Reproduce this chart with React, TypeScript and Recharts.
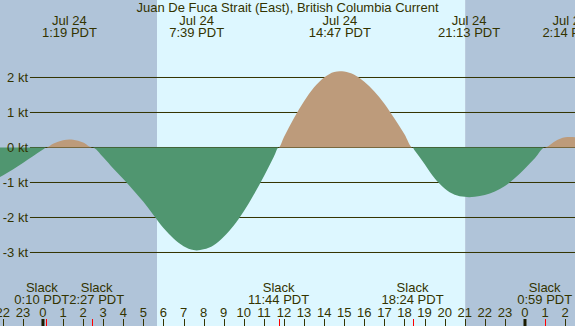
import React from 'react';
import { ComposedChart, Area, XAxis, YAxis, ReferenceArea, ReferenceLine } from 'recharts';

// tidal current, hours relative to Jul 24 00:00 PDT (values above 24 are Jul 25)
const HOURS = [
  -2.14, -2, -1.5, -1, -0.5, 0, 0.167, 0.5, 1, 1.317, 1.5, 2, 2.45, 3, 3.5, 4, 4.5, 5, 5.5, 6,
  6.5, 7, 7.5, 7.65, 8, 8.5, 9, 9.5, 10, 10.5, 11, 11.5, 11.733, 12, 12.5, 13, 13.5, 14, 14.5,
  14.783, 15, 15.5, 16, 16.5, 17, 17.5, 18, 18.4, 18.5, 19, 19.5, 20, 20.5, 21, 21.217, 21.5,
  22, 22.5, 23, 23.5, 24, 24.5, 24.983, 25.5, 26, 26.233, 26.49,
];
const CURRENT_KT = [
  -0.84, -0.8, -0.63, -0.44, -0.25, -0.06, 0, 0.105, 0.21, 0.23, 0.22, 0.14, 0, -0.28, -0.6,
  -0.9, -1.22, -1.55, -1.93, -2.3, -2.6, -2.82, -2.93, -2.94, -2.91, -2.79, -2.55, -2.23, -1.82,
  -1.34, -0.82, -0.26, 0, 0.3, 0.84, 1.32, 1.72, 2.0, 2.16, 2.18, 2.17, 2.08, 1.88, 1.6, 1.25,
  0.83, 0.38, 0, -0.08, -0.47, -0.88, -1.17, -1.35, -1.41, -1.42, -1.41, -1.36, -1.26, -1.1,
  -0.87, -0.6, -0.3, 0, 0.18, 0.29, 0.3, 0.29,
];

const HOUR_TICKS = [-2, -1, 0, 1, 2, 3, 4, 5, 6, 7, 8, 9, 10, 11, 12, 13, 14, 15, 16, 17, 18, 19, 20, 21, 22, 23, 24, 25, 26];
const KT_TICKS = [-3, -2, -1, 0, 1, 2];

const EXTREMA_H = [1.317, 7.65, 14.783, 21.217, 26.233];
const EXTREMA_DATE = ['Jul 24', 'Jul 24', 'Jul 24', 'Jul 24', 'Jul 25'];
const EXTREMA_TIME = ['1:19 PDT', '7:39 PDT', '14:47 PDT', '21:13 PDT', '2:14 PDT'];

const SLACK_H = [0.167, 2.45, 11.733, 18.4, 24.983];
const SLACK_TIME = ['0:10 PDT', '2:27 PDT', '11:44 PDT', '18:24 PDT', '0:59 PDT'];
// labels nudged apart where they would overlap
const SLACK_DX = [-4.5, 4.5, 0, 0, 0];

const SUNRISE_H = 5.68;
const SUNSET_H = 21.02;

const X_DOMAIN: [number, number] = [-2.14, 26.49];
const Y_DOMAIN: [number, number] = [-5.1, 4.214];
const GRID_START_H = -0.65;

const INK = '#333300';
const NIGHT = '#b0c4d9';
const DAY = '#ddf7ff';
const FLOOD = '#bd9b7b';
const EBB = '#509670';
const FONT = '"Liberation Sans", Arial, sans-serif';

const data = HOURS.map((h, i) => ({
  h,
  flood: Math.max(CURRENT_KT[i], 0),
  ebb: Math.min(CURRENT_KT[i], 0),
}));

const HourTick = ({ x, payload }: any) => {
  const label = ((payload.value % 24) + 24) % 24;
  const midnight = label === 0;
  const px = midnight ? x : Math.round(x) + 0.5;
  return (
    <g>
      <line
        x1={px}
        x2={px}
        y1={319}
        y2={326}
        stroke={midnight ? '#1c1c00' : INK}
        strokeWidth={midnight ? 3 : 1}
      />
      <text x={x} y={316.5} textAnchor="middle" fill={INK} fontSize={13} fontFamily={FONT}>
        {label}
      </text>
    </g>
  );
};

const SlackTick = ({ x, payload }: any) => {
  const i = SLACK_H.indexOf(payload.value);
  const lx = x + (SLACK_DX[i] || 0);
  const px = Math.round(x) + 0.5;
  return (
    <g>
      <line x1={px} x2={px} y1={319} y2={326} stroke="#ff0000" strokeWidth={1} />
      <text textAnchor="middle" fill={INK} fontSize={13} fontFamily={FONT}>
        <tspan x={lx} y={292}>Slack</tspan>
        <tspan x={lx} y={304}>{SLACK_TIME[i]}</tspan>
      </text>
    </g>
  );
};

const ExtremaTick = ({ x, payload }: any) => {
  const i = EXTREMA_H.indexOf(payload.value);
  return (
    <text textAnchor="middle" fill={INK} fontSize={13} fontFamily={FONT}>
      <tspan x={x} y={24.5}>{EXTREMA_DATE[i]}</tspan>
      <tspan x={x} y={36.5}>{EXTREMA_TIME[i]}</tspan>
    </text>
  );
};

const KtTick = ({ y, payload }: any) => (
  <text x={28} y={y} dy={4.5} textAnchor="end" fill={INK} fontSize={13} fontFamily={FONT}>
    {payload.value} kt
  </text>
);

export default function App() {
  return (
    <div style={{ position: 'relative', width: 575, height: 326 }}>
      <style>{'body{margin:0}'}</style>
      <ComposedChart width={575} height={326} data={data} margin={{ top: 0, right: 0, bottom: 0, left: 0 }}>
        <XAxis
          dataKey="h"
          type="number"
          domain={X_DOMAIN}
          ticks={HOUR_TICKS}
          interval={0}
          mirror
          allowDataOverflow
          axisLine={false}
          tickLine={false}
          tick={<HourTick />}
        />
        <XAxis
          xAxisId="slack"
          dataKey="h"
          type="number"
          domain={X_DOMAIN}
          ticks={SLACK_H}
          interval={0}
          mirror
          allowDataOverflow
          axisLine={false}
          tickLine={false}
          tick={<SlackTick />}
        />
        <XAxis
          xAxisId="top"
          dataKey="h"
          orientation="top"
          type="number"
          domain={X_DOMAIN}
          ticks={EXTREMA_H}
          interval={0}
          mirror
          allowDataOverflow
          axisLine={false}
          tickLine={false}
          tick={<ExtremaTick />}
        />
        <YAxis
          type="number"
          domain={Y_DOMAIN}
          ticks={KT_TICKS}
          interval={0}
          mirror
          allowDataOverflow
          axisLine={false}
          tickLine={false}
          tick={<KtTick />}
        />
        <ReferenceArea x1={X_DOMAIN[0]} x2={SUNRISE_H} y1={Y_DOMAIN[0]} y2={Y_DOMAIN[1]} fill={NIGHT} fillOpacity={1} stroke="none" zIndex={-300} />
        <ReferenceArea x1={SUNRISE_H} x2={SUNSET_H} y1={Y_DOMAIN[0]} y2={Y_DOMAIN[1]} fill={DAY} fillOpacity={1} stroke="none" zIndex={-300} />
        <ReferenceArea x1={SUNSET_H} x2={X_DOMAIN[1]} y1={Y_DOMAIN[0]} y2={Y_DOMAIN[1]} fill={NIGHT} fillOpacity={1} stroke="none" zIndex={-300} />
        {KT_TICKS.map((v) => (
          <ReferenceLine
            key={v}
            segment={[{ x: GRID_START_H, y: v }, { x: X_DOMAIN[1], y: v }]}
            stroke={INK}
            strokeWidth={1}
            zIndex={-200}
          />
        ))}
        <Area
          type="monotone"
          dataKey="flood"
          baseValue={0}
          stroke="none"
          fill={FLOOD}
          fillOpacity={1}
          dot={false}
          activeDot={false}
          isAnimationActive={false}
        />
        <Area
          type="monotone"
          dataKey="ebb"
          baseValue={0}
          stroke="none"
          fill={EBB}
          fillOpacity={1}
          dot={false}
          activeDot={false}
          isAnimationActive={false}
        />
      </ComposedChart>
      <div
        style={{
          position: 'absolute',
          top: 0,
          left: 0,
          width: 575,
          textAlign: 'center',
          fontFamily: FONT,
          fontSize: 13,
          lineHeight: '15px',
          color: INK,
          pointerEvents: 'none',
        }}
      >
        Juan De Fuca Strait (East), British Columbia Current
      </div>
    </div>
  );
}
